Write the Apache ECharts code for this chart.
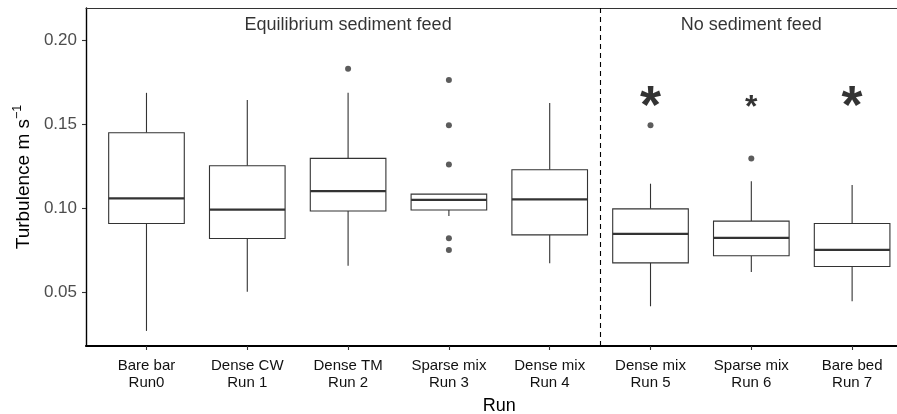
<!DOCTYPE html>
<html>
<head>
<meta charset="utf-8">
<title>Turbulence by run</title>
<script src="https://cdn.jsdelivr.net/npm/echarts@6/dist/echarts.min.js"></script>
<style>
  html, body { margin: 0; padding: 0; background: #fff; }
  #chart { width: 897px; height: 414px; }
</style>
</head>
<body>
<div id="chart"></div>
<script>
// Run labels (two lines each)
const categories = [
  'Bare bar\nRun0', 'Dense CW\nRun 1', 'Dense TM\nRun 2', 'Sparse mix\nRun 3',
  'Dense mix\nRun 4', 'Dense mix\nRun 5', 'Sparse mix\nRun 6', 'Bare bed\nRun 7'
];

// Box statistics per run: lower whisker, Q1, median, Q3, upper whisker
const lowerWhisker = [0.0268, 0.0502, 0.0656, 0.0953, 0.0672, 0.0415, 0.0620, 0.0445];
const q1           = [0.0909, 0.0819, 0.0983, 0.0989, 0.0841, 0.0674, 0.0716, 0.0652];
const median       = [0.1058, 0.0992, 0.1102, 0.1050, 0.1052, 0.0847, 0.0823, 0.0751];
const q3           = [0.1450, 0.1253, 0.1297, 0.1084, 0.1229, 0.0996, 0.0923, 0.0909];
const upperWhisker = [0.1688, 0.1646, 0.1688, 0.1084, 0.1628, 0.1146, 0.1160, 0.1138];

// Outlying observations: [run index, value]
const outliers = [
  [2, 0.1831],
  [3, 0.1765], [3, 0.1494], [3, 0.1261], [3, 0.0821], [3, 0.0750],
  [5, 0.1494],
  [6, 0.1297]
];

// Significance markers above the no-feed runs: [run index, value, size class]
const sigMarks = [[5, 0.1598, 'big'], [6, 0.1598, 'small'], [7, 0.1598, 'big']];

// Panel headings: [x position, value, text]
const panelTitles = [[2, 0.2092, 'Equilibrium sediment feed'], [6, 0.2092, 'No sediment feed']];

// Divider between the two feed regimes
const dividerAt = 4.5;

// y tick values
const yTicks = [0.05, 0.10, 0.15, 0.20];

const FONT = "'Liberation Sans', Arial, Helvetica, sans-serif";
const xIdx = categories.map((_, i) => i);

const boxData = categories.map((_, i) =>
  [i, lowerWhisker[i], q1[i], median[i], q3[i], upperWhisker[i]]);

function renderBox(params, api) {
  const x = api.value(0);
  const half = api.size([1, 0])[0] * 0.75 / 2;
  const pLow = api.coord([x, api.value(1)]);
  const pQ1 = api.coord([x, api.value(2)]);
  const pMed = api.coord([x, api.value(3)]);
  const pQ3 = api.coord([x, api.value(4)]);
  const pHigh = api.coord([x, api.value(5)]);
  const stroke = '#333333';
  const children = [];
  if (pHigh[1] < pQ3[1] - 0.5) {
    children.push({ type: 'line', shape: { x1: pQ3[0], y1: pQ3[1], x2: pHigh[0], y2: pHigh[1] },
      style: { stroke, lineWidth: 1.1 } });
  }
  if (pLow[1] > pQ1[1] + 0.5) {
    children.push({ type: 'line', shape: { x1: pQ1[0], y1: pQ1[1], x2: pLow[0], y2: pLow[1] },
      style: { stroke, lineWidth: 1.1 } });
  }
  children.push({ type: 'rect',
    shape: { x: pQ3[0] - half, y: pQ3[1], width: half * 2, height: pQ1[1] - pQ3[1] },
    style: { fill: '#ffffff', stroke, lineWidth: 1.1 } });
  children.push({ type: 'line',
    shape: { x1: pMed[0] - half, y1: pMed[1], x2: pMed[0] + half, y2: pMed[1] },
    style: { stroke, lineWidth: 2.2 } });
  return { type: 'group', children };
}

const chart = echarts.init(document.getElementById('chart'), null, { renderer: 'canvas' });

chart.setOption({
  animation: false,
  backgroundColor: '#ffffff',
  textStyle: { fontFamily: FONT },
  grid: { left: 86, top: 8, width: 826.6, height: 338, outerBoundsMode: 'none', containLabel: false },
  xAxis: [{
    type: 'value',
    min: -0.6, max: 7.6,
    position: 'bottom',
    name: 'Run',
    nameLocation: 'middle',
    nameGap: 50,
    nameTextStyle: { fontSize: 18, color: '#000', fontFamily: FONT },
    axisLine: { show: true, onZero: false, lineStyle: { color: '#000', width: 2.2 } },
    axisTick: { show: true, length: 4, customValues: xIdx, lineStyle: { color: '#333', width: 1.1 } },
    axisLabel: {
      customValues: xIdx,
      formatter: v => categories[Math.round(v)],
      fontSize: 15, lineHeight: 17.5, color: '#111', margin: 11, fontFamily: FONT
    },
    splitLine: { show: false }
  }, {
    type: 'value',
    min: -0.6, max: 7.6,
    position: 'top',
    axisLine: { show: true, onZero: false, lineStyle: { color: '#333', width: 1.1 } },
    axisTick: { show: false },
    axisLabel: { show: false },
    splitLine: { show: false }
  }],
  yAxis: {
    type: 'value',
    min: 0.0178, max: 0.2194,
    name: '{a|Turbulence m s}{b|−1}',
    nameLocation: 'middle',
    nameGap: 47,
    nameRotate: 90,
    nameTextStyle: {
      color: '#000', fontFamily: FONT,
      rich: {
        a: { fontSize: 19, fontFamily: FONT, color: '#000', lineHeight: 24 },
        b: { fontSize: 12.5, fontFamily: FONT, color: '#000', verticalAlign: 'top', lineHeight: 24 }
      }
    },
    axisLine: { show: true, onZero: false, lineStyle: { color: '#000', width: 1.4 } },
    axisTick: { show: true, length: 4, customValues: yTicks, lineStyle: { color: '#333', width: 1.1 } },
    axisLabel: {
      customValues: yTicks,
      formatter: v => v.toFixed(2),
      fontSize: 17, color: '#4d4d4d', margin: 9, fontFamily: FONT
    },
    splitLine: { show: false }
  },
  series: [
    {
      name: 'runs',
      type: 'custom',
      renderItem: renderBox,
      data: boxData,
      encode: { x: 0, y: [1, 2, 3, 4, 5] },
      z: 3,
      markLine: {
        silent: true,
        symbol: 'none',
        label: { show: false },
        lineStyle: { color: '#000', type: [5, 4], width: 1.1 },
        data: [{ xAxis: dividerAt }]
      }
    },
    {
      name: 'outliers',
      type: 'scatter',
      data: outliers,
      symbol: 'circle',
      symbolSize: 6,
      itemStyle: { color: '#333333' },
      z: 4
    },
    {
      name: 'significance',
      type: 'scatter',
      data: sigMarks.map(d => ({
        value: [d[0], d[1]],
        label: {
          show: true, formatter: '*', position: 'inside', color: '#000',
          fontWeight: 'bold', fontFamily: FONT,
          fontSize: d[2] === 'big' ? 54 : 32
        }
      })),
      symbolSize: 0,
      z: 5
    },
    {
      name: 'panels',
      type: 'scatter',
      data: panelTitles.map(d => ({
        value: [d[0], d[1]],
        label: { show: true, formatter: d[2], position: 'inside', color: '#000',
          fontSize: 18, fontFamily: FONT }
      })),
      symbolSize: 0,
      z: 5
    }
  ]
});
</script>
</body>
</html>
